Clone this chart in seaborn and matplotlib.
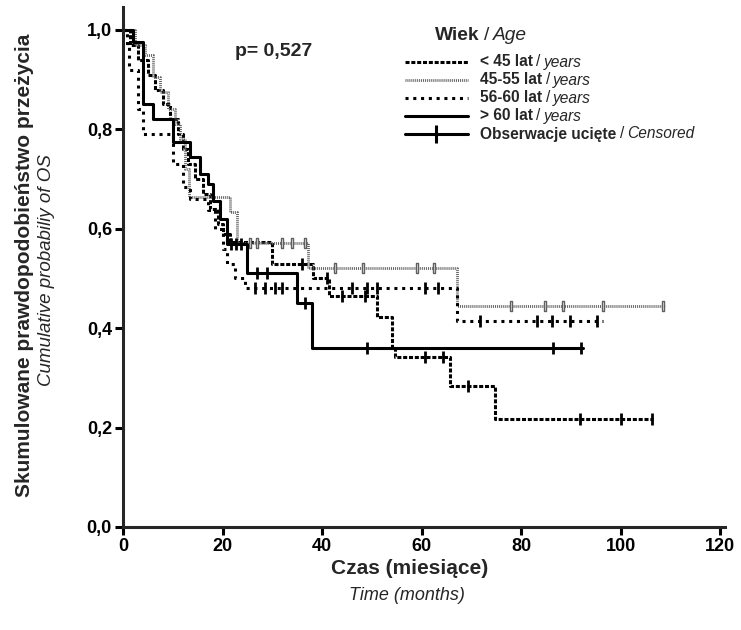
import numpy as np
import pandas as pd
import matplotlib
matplotlib.use('Agg')
import matplotlib.pyplot as plt
import seaborn as sns
from matplotlib.lines import Line2D
from matplotlib.offsetbox import TextArea, DrawingArea, HPacker, AnchoredOffsetbox

# Kaplan-Meier steps: event times (months) and survival after each step
# < 45 lat
t_lt45 = [1.5, 3, 5, 6.5, 8, 9.5, 11, 12, 13, 14.5, 16, 17.5, 19, 20, 21.5, 30, 38.2, 41.5, 51, 54, 54.7, 65.7, 74.8]
s_lt45 = [0.97, 0.94, 0.91, 0.88, 0.85, 0.82, 0.79, 0.76, 0.73, 0.70, 0.67, 0.64, 0.61, 0.59, 0.573, 0.53, 0.50, 0.465, 0.423, 0.36, 0.342, 0.283, 0.217]
c_lt45 = [36, 41, 44, 48.6, 60.7, 64.3, 69.3, 91.9, 100, 106.3]
end_lt45 = 106.5

# 45-55 lat
t_4555 = [2.5, 4.5, 6, 7.5, 9, 10.5, 11.5, 12.5, 13.2, 21.5, 23, 37.2, 67.1]
s_4555 = [0.97, 0.95, 0.905, 0.875, 0.84, 0.81, 0.78, 0.72, 0.664, 0.634, 0.571, 0.521, 0.445]
c_4555 = [25.5, 27, 32, 34, 36.5, 42.6, 48.2, 59, 62.5, 78, 84.8, 88.4, 96.5, 108.5]
end_4555 = 109

# 56-60 lat
t_5660 = [0.8, 1.2, 3, 4, 10, 12, 13.5, 17, 18.5, 20, 21, 22.5, 24.5, 67.1]
s_5660 = [0.97, 0.92, 0.84, 0.79, 0.73, 0.684, 0.66, 0.638, 0.60, 0.56, 0.53, 0.50, 0.481, 0.415]
c_5660 = [26.5, 28.5, 30.5, 32, 46, 49, 51, 60.7, 63.3, 71.8, 83.2, 86.2, 89.8, 95.3]
end_5660 = 96.5

# > 60 lat
t_gt60 = [2, 4, 6, 10, 13.5, 15.5, 17, 18, 19.5, 21, 25, 35, 38]
s_gt60 = [0.975, 0.85, 0.82, 0.775, 0.745, 0.71, 0.69, 0.655, 0.62, 0.57, 0.51, 0.45, 0.36]
c_gt60 = [21.8, 22.8, 23.8, 27, 29, 36.5, 49, 86.5, 92]
end_gt60 = 92.5

x_ticks = [0, 20, 40, 60, 80, 100, 120]
y_ticks = [0.0, 0.2, 0.4, 0.6, 0.8, 1.0]
y_tick_labels = ['0,0', '0,2', '0,4', '0,6', '0,8', '1,0']

legend_bold = ['< 45 lat', '45-55 lat', '56-60 lat', '> 60 lat', 'Obserwacje ucięte']
legend_italic = ['years', 'years', 'years', 'years', 'Censored']

sns.set_style('ticks')
plt.rcParams['font.family'] = ['Liberation Sans', 'DejaVu Sans']
plt.rcParams['lines.scale_dashes'] = False

# line styles for each group
styles = {
    '< 45': dict(color='black', lw=2.2, linestyle=(0, (2.9, 1.3))),
    '45-55': dict(color='#606060', lw=2.0, linestyle=(0, (0.7, 0.7))),
    '56-60': dict(color='black', lw=2.2, linestyle=(0, (2.2, 3.4))),
    '> 60': dict(color='black', lw=2.2, linestyle='-'),
}


def step_frame(times, surv, end):
    return pd.DataFrame({'t': [0] + list(times) + [end],
                         's': [1.0] + list(surv) + [surv[-1]]})


def surv_at(times, surv, c):
    idx = np.searchsorted(times, c, side='right') - 1
    return np.where(idx < 0, 1.0, np.array(surv)[np.clip(idx, 0, None)])


fig = plt.figure(figsize=(7.41, 6.30), dpi=100)
ax = fig.add_axes([0.166, 0.1635, 0.8124, 0.8254])

groups = [
    ('< 45', t_lt45, s_lt45, c_lt45, end_lt45),
    ('45-55', t_4555, s_4555, c_4555, end_4555),
    ('56-60', t_5660, s_5660, c_5660, end_5660),
    ('> 60', t_gt60, s_gt60, c_gt60, end_gt60),
]

for name, tt, ss, cc, end in groups:
    df = step_frame(tt, ss, end)
    sns.lineplot(data=df, x='t', y='s', ax=ax, estimator=None, sort=False,
                 drawstyle='steps-post', **styles[name])
    cy = surv_at(np.array(tt), ss, np.array(cc))
    if name == '45-55':
        rect = [(-0.28, -1), (0.28, -1), (0.28, 1), (-0.28, 1), (-0.28, -1)]
        ax.plot(cc, cy, linestyle='none', marker=rect, ms=6.5, mfc='white',
                mec='#606060', mew=1.0)
    else:
        ax.plot(cc, cy, linestyle='none', marker='|', ms=8, mew=2.0, color='black')

ax.set_xlim(0, 121)
ax.set_ylim(0, 1.046)
ax.set_xticks(x_ticks)
ax.set_yticks(y_ticks)
ax.set_yticklabels(y_tick_labels)
ax.set_xlabel('')
ax.set_ylabel('')
sns.despine(ax=ax)
for sp in ['left', 'bottom']:
    ax.spines[sp].set_linewidth(2.2)
ax.tick_params(width=2.2, length=6, labelsize=13, pad=2, colors='black')
for lbl in ax.get_xticklabels() + ax.get_yticklabels():
    lbl.set_fontweight('bold')

ax.text(22.5, 0.956, 'p= 0,527', fontsize=14, fontweight='bold', va='center')

# axis titles (two lines: Polish bold, English italic)
fig.text(25 / 741, 1 - 265 / 630, 'Skumulowane prawdopodobieństwo przeżycia',
         rotation=90, ha='center', va='center', fontsize=15, fontweight='bold')
fig.text(47 / 741, 1 - 270 / 630, 'Cumulative probabiliy of OS',
         rotation=90, ha='center', va='center', fontsize=13.5, style='italic')
fig.text(410 / 741, 1 - 568 / 630, 'Czas (miesiące)', ha='center', va='center',
         fontsize=15, fontweight='bold')
fig.text(407 / 741, 1 - 595 / 630, 'Time (months)', ha='center', va='center',
         fontsize=13, style='italic')

# legend, built by hand so each label can mix bold and italic
fs = 11.2
title = HPacker(children=[TextArea('Wiek', textprops=dict(fontsize=13.8, fontweight='bold')),
                          TextArea('/', textprops=dict(fontsize=13.8)),
                          TextArea('Age', textprops=dict(fontsize=13.8, style='italic'))],
                sep=3, align='baseline', pad=0)
ax.add_artist(AnchoredOffsetbox(loc='center left', child=title, pad=0, borderpad=0, frameon=False,
                                bbox_to_anchor=(435 / 741, 1 - 35 / 630),
                                bbox_transform=fig.transFigure))

row_y = [62, 80, 98, 116, 134]
row_styles = [styles['< 45'], styles['45-55'], styles['56-60'], styles['> 60'], styles['> 60']]
for i, (b, it) in enumerate(zip(legend_bold, legend_italic)):
    da = DrawingArea(45, 10, 0, 0)
    da.add_artist(Line2D([0, 45], [5, 5], **row_styles[i]))
    if i == 4:
        da.add_artist(Line2D([22.5], [5], linestyle='none', marker='|', ms=13,
                             mew=2.2, color='black'))
    label = HPacker(children=[TextArea(b, textprops=dict(fontsize=fs, fontweight='bold')),
                              TextArea('/', textprops=dict(fontsize=fs)),
                              TextArea(it, textprops=dict(fontsize=fs, style='italic'))],
                    sep=2.5, align='baseline', pad=0)
    row = HPacker(children=[da, label], sep=9, align='center', pad=0)
    ax.add_artist(AnchoredOffsetbox(loc='center left', child=row, pad=0, borderpad=0,
                                    frameon=False,
                                    bbox_to_anchor=(405 / 741, 1 - row_y[i] / 630),
                                    bbox_transform=fig.transFigure))

fig.savefig('out.png', dpi=100)
